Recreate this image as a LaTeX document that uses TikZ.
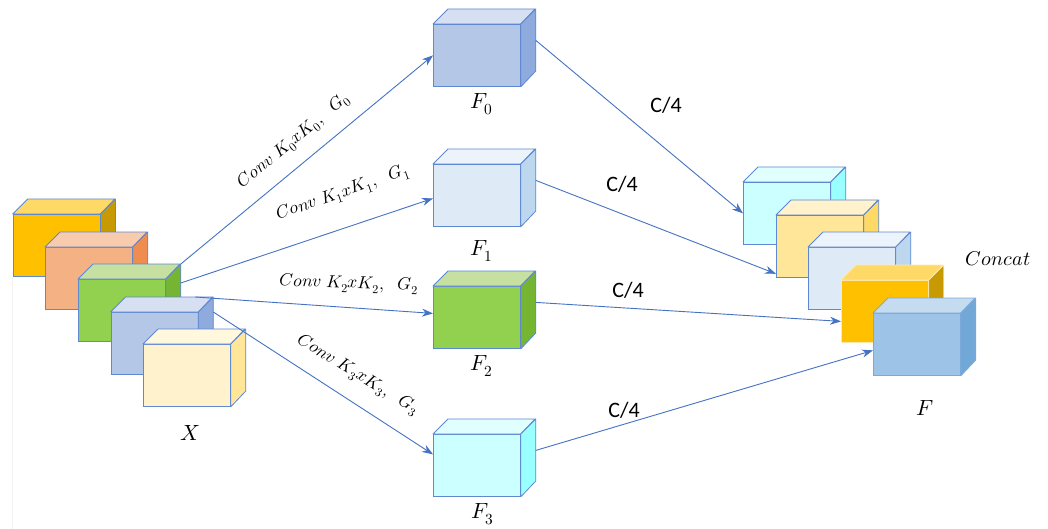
\documentclass[tikz,border=0pt]{standalone}
\usepackage{fontspec}
\usepackage{unicode-math}
\newfontfamily\carl{Carlito}
\usetikzlibrary{arrows.meta,calc}
\definecolor{ln}{HTML}{4472C4}
\definecolor{bd}{HTML}{5E88D2}
% gold
\definecolor{goldF}{HTML}{FFC000}\definecolor{goldT}{HTML}{FFD966}\definecolor{goldS}{HTML}{C69A00}
% salmon
\definecolor{salF}{HTML}{F4B183}\definecolor{salT}{HTML}{F8CBAD}\definecolor{salS}{HTML}{EF8C4F}
% green
\definecolor{grF}{HTML}{92D050}\definecolor{grT}{HTML}{C5E0A0}\definecolor{grS}{HTML}{76B531}
% blue
\definecolor{blF}{HTML}{B4C7E7}\definecolor{blT}{HTML}{D6E0F2}\definecolor{blS}{HTML}{8FAADC}
% cream
\definecolor{crF}{HTML}{FFF2CC}\definecolor{crT}{HTML}{FFF7DE}\definecolor{crS}{HTML}{FFE699}
% pale blue
\definecolor{pbF}{HTML}{DEEBF7}\definecolor{pbT}{HTML}{EDF3FA}\definecolor{pbS}{HTML}{BDD7EE}
% cyan
\definecolor{cyF}{HTML}{CCFFFF}\definecolor{cyT}{HTML}{E0FFFF}\definecolor{cyS}{HTML}{99FFFF}
% yellow
\definecolor{yeF}{HTML}{FFE699}\definecolor{yeT}{HTML}{FFF2CC}\definecolor{yeS}{HTML}{FFD966}
% mid blue
\definecolor{mbF}{HTML}{9DC3E6}\definecolor{mbT}{HTML}{C5DBEF}\definecolor{mbS}{HTML}{72A8D8}
\definecolor{mbB}{HTML}{7AAAD8}
\definecolor{ltB}{HTML}{FFE9A8}
\newcommand\mycube[7]{%
  \node[draw=#7, fill=#4, line width=0.8pt, minimum width=87pt, minimum height=62pt,
        inner sep=0pt, anchor=north west] (#1) at (#2,#3) {};
  \draw[draw=#7, fill=#5, line width=0.8pt, line join=round]
    (#1.north west) -- ++(15,-15) -- ++(87,0) -- (#1.north east) -- cycle;
  \draw[draw=#7, fill=#6, line width=0.8pt, line join=round]
    (#1.north east) -- ++(15,-15) -- ++(0,62) -- (#1.south east) -- cycle;
  \coordinate (#1s) at ($(#1.east)+(15,-15)$);
}
\tikzset{
  conn/.style={draw=ln, line width=0.9pt, -{Stealth[length=11pt,width=8pt]}},
  lab/.style={font=\fontsize{22}{26}\selectfont},
  catlab/.style={font=\fontsize{20}{24}\selectfont},
  conv/.style={font=\fontsize{17.5}{21}\selectfont},
  quart/.style={font=\carl\fontsize{22}{26}\selectfont},
}
\begin{document}
\begin{tikzpicture}[x=1pt,y=-1pt]
\useasboundingbox (0,0) rectangle (1048,529);
\fill[white] (0,0) rectangle (1048,529);
\draw[black!5, line width=0.6pt] (12.5,277) -- (12.5,529);
% input X stack
\mycube{X1}{12.7}{214}{goldF}{goldT}{goldS}{bd}
\mycube{X2}{45}{247}{salF}{salT}{salS}{bd}
\mycube{X3}{78}{279}{grF}{grT}{grS}{bd}
\mycube{X4}{110.5}{312}{blF}{blT}{blS}{bd}
\mycube{X5}{143}{344}{crF}{crT}{crS}{bd}
% branch outputs
\mycube{F0}{433}{24}{blF}{blT}{blS}{bd}
\mycube{F1}{433}{164}{pbF}{pbT}{pbS}{bd}
\mycube{F2}{433}{286}{grF}{grT}{grS}{bd}
\mycube{F3}{433}{434}{cyF}{cyT}{cyS}{bd}
% concat stack
\mycube{C1}{743}{182}{cyF}{cyT}{cyS}{bd}
\mycube{C2}{776}{215}{yeF}{yeT}{yeS}{bd}
\mycube{C3}{808}{247}{pbF}{pbT}{pbS}{bd}
\mycube{C4}{841}{280}{goldF}{goldT}{goldS}{ltB}
\mycube{C5}{873}{313}{mbF}{mbT}{mbS}{mbB}
% connector start points
\coordinate (a0) at ($(X3.north east)+(15,-15)$);
\coordinate (a1) at ($(X3.north east)+(15,4)$);
\coordinate (a2) at ($(X4.north east)+(-3,-15)$);
\coordinate (a3) at ($(X4.north east)+(15,0)$);
% connectors
\draw[conn] (a0) -- (F0.west);
\draw[conn] (a1) -- ($(F1.west)+(0,3)$);
\draw[conn] (a2) -- ($(F2.west)+(0,-4)$);
\draw[conn] (a3) -- ($(F3.west)+(0,-11)$);
\draw[conn] (F0s) -- (C1.west);
\draw[conn] (F1s) -- ($(C2.south west)+(0,-4)$);
\draw[conn] (F2s) -- ($(C4.west)+(0,10)$);
\draw[conn] (F3s) -- ($(C5.west)+(0,6)$);
% labels
\node[lab] (lX) at (190,433) {$X$};
\node[lab] (lF0) at (482,104) {$F_0$};
\node[lab] (lF1) at (482,251) {$F_1$};
\node[lab] (lF2) at (482,366) {$F_2$};
\node[lab] (lF3) at (483,514) {$F_3$};
\node[lab] (lF) at (925,408) {$F$};
\node[catlab] (lC) at (998,259) {$Concat$};
\node[conv, rotate=39.5] (k0) at (294,141) {$Conv\ K_0xK_0,\ \ G_0$};
\node[conv, rotate=19] (k1) at (343,193) {$Conv\ K_1xK_1,\ \ G_1$};
\node[conv, rotate=-2] (k2) at (349,284) {$Conv\ K_2xK_2,\ \ G_2$};
\node[conv, rotate=-31] (k3) at (358,375) {$Conv\ K_3xK_3,\ \ G_3$};
\node[quart] (q0) at (666,105) {C/4};
\node[quart] (q1) at (622,184) {C/4};
\node[quart] (q2) at (628,290) {C/4};
\node[quart] (q3) at (624,410) {C/4};
\end{tikzpicture}
\end{document}
